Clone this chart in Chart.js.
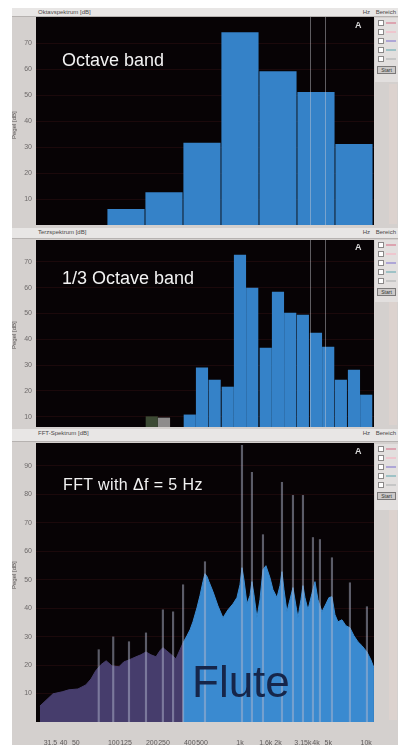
<!DOCTYPE html>
<html>
<head>
<meta charset="utf-8">
<script src="https://cdn.jsdelivr.net/npm/chart.js@4.4.1/dist/chart.umd.min.js"></script>
<style>
  html, body { margin: 0; padding: 0; background: #fff; }
  body { width: 408px; height: 745px; position: relative; overflow: hidden; font-family: "Liberation Sans", Arial, sans-serif; }
  #frame { position: absolute; left: 12px; top: 8px; width: 386px; height: 737px; background: #d4d0ce; }
  .strip { position: absolute; left: 12px; width: 386px; background: #e8e6e5; border-bottom: 1px solid #b6b2b0; font-size: 6px; color: #4a4848; }
  .strip span { position: absolute; top: 1px; white-space: nowrap; }
  canvas { position: absolute; left: 12px; }
  .label { position: absolute; color: #f2f2f2; font-size: 18px; line-height: 1; white-space: nowrap; }
  .flute { position: absolute; left: 192px; top: 660px; font-size: 44px; line-height: 1; color: #16264a; }
  .icon { position: absolute; color: #d8d8d8; font-size: 9px; font-weight: bold; line-height: 1; }
  .side { position: absolute; left: 375px; width: 23px; background: #e2dfde; }
  .row { position: relative; height: 9px; }
  .row i { position: absolute; left: 3px; top: 2px; width: 4px; height: 4px; background: #fff; border: 1px solid #8a8888; }
  .row b { position: absolute; left: 11px; top: 4px; width: 10px; height: 2px; }
  .btn { margin: 3px 2px 0; height: 6px; border: 1px solid #7a7878; background: #ccc9c8; font-size: 5px; line-height: 6px; text-align: center; color: #333; }
  .col { position: absolute; left: 389px; width: 8px; background: #dcd2ce; }
  .ytitle { position: absolute; left: 11px; width: 10px; font-size: 6px; color: #5a5656; writing-mode: vertical-rl; transform: rotate(180deg); text-align: center; }
</style>
</head>
<body>
<div id="frame"></div>

<div class="strip" style="top:8px;height:8px"><span style="left:26px">Oktavspektrum [dB]</span><span style="right:28px">Hz</span><span style="right:2px">Bereich</span></div>
<div class="strip" style="top:228px;height:10px"><span style="left:26px">Terzspektrum [dB]</span><span style="right:28px">Hz</span><span style="right:2px">Bereich</span></div>
<div class="strip" style="top:429px;height:12px"><span style="left:26px">FFT-Spektrum [dB]</span><span style="right:28px">Hz</span><span style="right:2px">Bereich</span></div>

<canvas id="octave" width="386" height="211" style="top:17px"></canvas>
<canvas id="third" width="386" height="189" style="top:239px"></canvas>
<canvas id="fft" width="386" height="303" style="top:442px"></canvas>

<div class="ytitle" style="top:90px;height:70px">Pegel [dB]</div>
<div class="ytitle" style="top:300px;height:70px">Pegel [dB]</div>
<div class="ytitle" style="top:540px;height:70px">Pegel [dB]</div>

<div class="col" style="top:84px;height:140px"></div>
<div class="col" style="top:300px;height:125px"></div>
<div class="col" style="top:510px;height:210px"></div>

<div class="side" style="top:18px;height:64px">
  <div class="row"><i></i><b style="background:#dca4b0"></b></div>
  <div class="row"><i></i><b style="background:#eec6ce"></b></div>
  <div class="row"><i></i><b style="background:#aea6d6"></b></div>
  <div class="row"><i></i><b style="background:#9ec2c6"></b></div>
  <div class="row"><i></i><b style="background:#c6c6c6"></b></div>
  <div class="btn">Start</div>
</div>
<div class="side" style="top:240px;height:62px">
  <div class="row"><i></i><b style="background:#dca4b0"></b></div>
  <div class="row"><i></i><b style="background:#eec6ce"></b></div>
  <div class="row"><i></i><b style="background:#aea6d6"></b></div>
  <div class="row"><i></i><b style="background:#9ec2c6"></b></div>
  <div class="row"><i></i><b style="background:#c6c6c6"></b></div>
  <div class="btn">Start</div>
</div>
<div class="side" style="top:444px;height:66px">
  <div class="row"><i></i><b style="background:#dca4b0"></b></div>
  <div class="row"><i></i><b style="background:#eec6ce"></b></div>
  <div class="row"><i></i><b style="background:#aea6d6"></b></div>
  <div class="row"><i></i><b style="background:#9ec2c6"></b></div>
  <div class="row"><i></i><b style="background:#c6c6c6"></b></div>
  <div class="btn">Start</div>
</div>

<div class="label" style="left:62px;top:51px">Octave band</div>
<div class="label" style="left:62px;top:269px">1/3 Octave band</div>
<div class="label" style="left:63px;top:477px;font-size:16px;letter-spacing:0.4px">FFT with Δf = 5 Hz</div>
<div class="flute">Flute</div>
<div class="icon" style="left:355px;top:21px">A</div>
<div class="icon" style="left:355px;top:243px">A</div>
<div class="icon" style="left:355px;top:447px">A</div>

<script>
// frequency axis shared by all three spectra (log, Hz)
const freqMin = 24.2;
const freqMax = 11530;
const freqTickHz = [31.5, 40, 50, 100, 125, 200, 250, 400, 500, 1000, 1600, 2000, 3150, 4000, 5000, 10000];
const freqTickLabels = ['31.5', '40', '50', '100', '125', '200', '250', '400', '500', '1k', '1.6k', '2k', '3.15k', '4k', '5k', '10k'];
const cursorHz = [3580, 4710];

// octave bands
const octaveHz = [125, 250, 500, 1000, 2000, 4000, 8000];
const octaveDb = [6, 12.5, 31.5, 74, 59, 51, 31];
const octaveTicks = [10, 20, 30, 40, 50, 60, 70];

// third-octave bands
const thirdHz = [200, 250, 400, 500, 630, 800, 1000, 1250, 1600, 2000, 2500, 3150, 4000, 5000, 6300, 8000, 10000];
const thirdDb = [10, 9.5, 10.7, 28.9, 24.2, 21.5, 72.7, 59.9, 36.6, 58.3, 50.2, 49.4, 42.4, 37, 24.2, 28.1, 18.4];
const thirdTicks = [10, 20, 30, 40, 50, 60, 70];

// FFT spectrum (envelope + harmonic peaks)
const fftHz = [26, 33, 39, 44, 52, 60, 66, 72, 79, 87,
  97, 110, 120, 132, 150, 164, 180, 197, 216, 232,
  245, 274, 311, 335, 354, 380, 402, 424, 456, 482,
  509, 528, 548, 568, 611, 669, 733, 803, 880, 946,
  1000, 1037, 1075, 1136, 1200, 1244, 1291, 1363, 1440, 1521,
  1606, 1728, 1825, 1963, 2074, 2151, 2231, 2356, 2489, 2629,
  2777, 2880, 3042, 3155, 3272, 3456, 3717, 3927, 4148, 4461,
  4799, 5069, 5355, 5656, 5973, 6425, 6911, 7434, 7997, 8603,
  9253, 10137, 10905, 11519];
const fftDb = [5.6, 9.9, 10.6, 11.3, 11.6, 13.0, 15.1, 18.0, 20.1, 21.5,
  19.7, 19.4, 21.1, 21.8, 22.9, 23.6, 24.6, 23.6, 22.9, 25.0,
  26.1, 24.3, 22.2, 25.4, 27.8, 30.3, 32.4, 35.2, 40.1, 44.4,
  49.3, 52.1, 51.1, 49.3, 45.8, 40.8, 36.6, 39.4, 41.5, 43.7,
  48.2, 54.2, 50.0, 41.5, 44.4, 49.3, 44.7, 36.6, 43.0, 53.5,
  54.9, 50.7, 46.5, 43.7, 47.9, 52.8, 46.5, 38.7, 43.0, 47.2,
  40.8, 36.6, 43.0, 47.9, 43.7, 39.4, 45.1, 49.3, 43.0, 38.7,
  41.5, 43.7, 44.0, 37.7, 35.2, 35.9, 33.8, 33.1, 30.3, 28.2,
  26.8, 24.6, 21.8, 19.0];
const peakHz = [76, 99, 132, 180, 245, 295, 354, 528, 1037, 1244, 1521, 2151, 2629, 3155, 3786, 4301, 5355, 7434, 10137];
const peakDb = [25.4, 29.9, 28.2, 31.3, 39.4, 38.7, 48.2, 56.3, 97.2, 87.7, 65.8, 84.2, 79.6, 79.6, 64.8, 64.1, 57.7, 48.9, 40.5];
const fftTicks = [10, 20, 30, 40, 50, 60, 70, 80, 90];
const bandSplitHz = 354;

const barBlue = '#3582c8';
const fftBlue = '#3a8ad0';
const fftLow = '#463d6c';
const thirdBarColors = ['#3c4a34', '#8e8c8c'];

const plotBackground = {
    id: 'plotBackground',
    beforeDraw(chart) {
        const { ctx, chartArea: a } = chart;
        ctx.save();
        ctx.fillStyle = '#070305';
        ctx.fillRect(a.left, a.top, a.width, a.height);
        ctx.restore();
    }
};

// thin vertical marker lines at given frequencies
const cursorLines = {
    id: 'cursorLines',
    afterDatasetsDraw(chart, args, opts) {
        if (!opts.values) return;
        const { ctx, chartArea: a, scales: { x } } = chart;
        ctx.save();
        ctx.strokeStyle = opts.color;
        ctx.lineWidth = 1;
        opts.values.forEach(v => {
            const px = Math.round(x.getPixelForValue(v)) + 0.5;
            ctx.beginPath();
            ctx.moveTo(px, a.top);
            ctx.lineTo(px, a.bottom);
            ctx.stroke();
        });
        ctx.restore();
    }
};

function freqAxis(showLabels) {
    return {
        type: 'logarithmic',
        min: freqMin,
        max: freqMax,
        offset: false,
        display: showLabels,
        grid: { display: false, offset: false },
        border: { display: false },
        afterBuildTicks: s => { s.ticks = freqTickHz.map(v => ({ value: v })); },
        afterFit: s => {
            if (showLabels) s.height = 23;
            s.paddingLeft = 0;
            s.paddingRight = 0;
        },
        ticks: {
            autoSkip: false, maxRotation: 0, padding: 9,
            color: '#5e5a5a', font: { size: 7 },
            callback: (v, i) => freqTickLabels[i]
        }
    };
}

function levelAxis(min, max, ticks) {
    return {
        min, max,
        afterBuildTicks: s => { s.ticks = ticks.map(v => ({ value: v })); },
        afterFit: s => { s.width = 24; s.paddingTop = 0; s.paddingBottom = 0; },
        grid: { color: 'rgba(120,40,40,0.18)', drawTicks: false },
        border: { display: false },
        ticks: { padding: 4, color: '#6e6a6a', font: { size: 7 } }
    };
}

const baseOptions = (padTop, padBottom) => ({
    responsive: false,
    animation: false,
    events: [],
    layout: { padding: { top: padTop, right: 24, bottom: padBottom, left: 0 } },
    plugins: { legend: { display: false }, tooltip: { enabled: false } }
});

// Octave band
new Chart(document.getElementById('octave'), {
    type: 'bar',
    data: {
        datasets: [{
            data: octaveHz.map((f, i) => ({ x: f, y: octaveDb[i] })),
            backgroundColor: barBlue,
            barThickness: 36.5
        }]
    },
    options: {
        ...baseOptions(0, 3),
        plugins: {
            legend: { display: false }, tooltip: { enabled: false },
            cursorLines: { values: cursorHz, color: 'rgba(205,205,210,0.45)' }
        },
        scales: { x: freqAxis(false), y: levelAxis(0, 80, octaveTicks) }
    },
    plugins: [plotBackground, cursorLines]
});

// 1/3 octave band
new Chart(document.getElementById('third'), {
    type: 'bar',
    data: {
        datasets: [{
            data: thirdHz.map((f, i) => ({ x: f, y: thirdDb[i] })),
            backgroundColor: ctx => thirdBarColors[ctx.dataIndex] || barBlue,
            barThickness: 11.5
        }]
    },
    options: {
        ...baseOptions(1, 1),
        plugins: {
            legend: { display: false }, tooltip: { enabled: false },
            cursorLines: { values: cursorHz, color: 'rgba(205,205,210,0.45)' }
        },
        scales: { x: freqAxis(false), y: levelAxis(6, 78.5, thirdTicks) }
    },
    plugins: [plotBackground, cursorLines]
});

// FFT: fill is dusky below the first blue band, blue above it
function fftFill(c) {
    const { chart } = c;
    const a = chart.chartArea;
    if (!a) return fftBlue;
    const split = chart.scales.x.getPixelForValue(bandSplitHz);
    const t = Math.min(1, Math.max(0, (split - a.left) / (a.right - a.left)));
    const g = chart.ctx.createLinearGradient(a.left, 0, a.right, 0);
    g.addColorStop(0, fftLow);
    g.addColorStop(t, fftLow);
    g.addColorStop(t, fftBlue);
    g.addColorStop(1, fftBlue);
    return g;
}

new Chart(document.getElementById('fft'), {
    type: 'line',
    data: {
        datasets: [
            {
                type: 'bar',
                data: peakHz.map((f, i) => ({ x: f, y: peakDb[i] })),
                backgroundColor: 'rgba(176,182,204,0.5)',
                barThickness: 1.5,
                order: 0
            },
            {
                data: fftHz.map((f, i) => ({ x: f, y: fftDb[i] })),
                fill: 'origin',
                backgroundColor: fftFill,
                borderColor: fftFill,
                borderWidth: 1,
                pointRadius: 0,
                tension: 0,
                order: 1
            }
        ]
    },
    options: {
        ...baseOptions(1, 0),
        scales: { x: freqAxis(true), y: levelAxis(0, 98, fftTicks) }
    },
    plugins: [plotBackground]
});
</script>
</body>
</html>
